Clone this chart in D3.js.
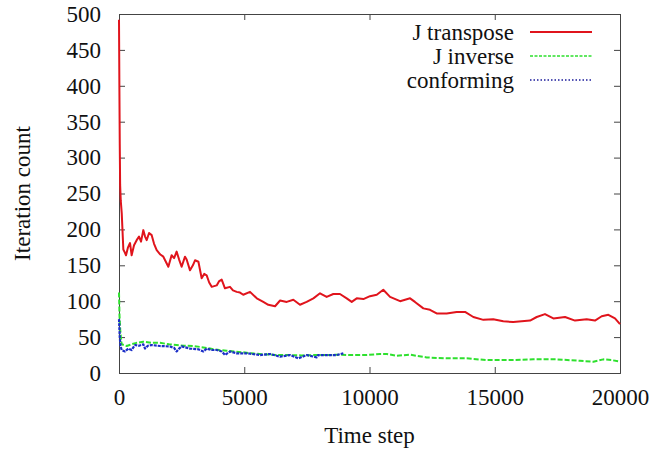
<!DOCTYPE html>
<html>
<head>
<meta charset="utf-8">
<script src="https://cdn.jsdelivr.net/npm/d3@7"></script>
<style>
  body { margin: 0; background: #fff; }
</style>
</head>
<body>
<div class="container"></div>
<script>
var FONT = "'Liberation Serif', 'Times New Roman', Times, 'DejaVu Serif', serif";

// series names
var seriesNames = ['J transpose', 'J inverse', 'conforming'];

// [time step, iteration count]
var jTranspose = [
	[0,492],[15,400],[30,320],[45,262],[70,240],[110,222],[173,172],[230,168],[280,164],[360,175],
	[440,181],[505,164],[600,178],[705,185],[800,190],[880,183],[970,199],[1040,190],[1105,185],[1200,195],
	[1305,192],[1400,180],[1505,171],[1650,165],[1770,162],[1870,155],[1970,148],[2100,164],[2200,160],[2300,169],
	[2400,158],[2500,148],[2635,162],[2700,158],[2835,143],[2950,150],[3035,157],[3170,155],[3300,132],[3400,138],
	[3500,136],[3600,126],[3700,120],[3900,122],[4000,128],[4100,130],[4230,118],[4430,120],[4550,115],[4700,113],
	[4830,112],[4960,109],[5230,113],[5500,104],[5760,99],[5960,95],[6230,93],[6430,101],[6695,99],[6960,102],
	[7225,95],[7490,99],[7760,104],[8025,111],[8290,106],[8555,110],[8820,110],[9090,104],[9290,99],[9490,104],
	[9755,103],[10020,107],[10290,109],[10550,116],[10820,106],[11220,100],[11620,104],[11815,99],[12150,90],[12415,88],
	[12680,83],[13080,83],[13480,85],[13815,85],[14145,78],[14545,74],[14940,75],[15340,72],[15740,71],[16410,73],
	[16675,78],[17005,82],[17340,76],[17805,78],[18205,73],[18670,75],[19000,73],[19270,79],[19535,81],[19800,76],
	[20000,68]
];

var jInverse = [
	[0,112],[20,80],[50,60],[80,48],[107,40],[200,39],[307,37.6],[500,40],[700,42],[970,43.6],
	[1300,42],[1635,42],[2000,40],[2300,39],[2600,38],[2965,37.6],[3300,36],[3630,34],[4000,32],[4300,31],
	[4600,30],[4960,28.8],[5400,27],[5800,26],[6300,25],[6800,25],[7300,24.5],[7800,25],[8300,25],[8800,25.5],
	[9220,25],[9890,25],[10420,26.5],[10690,26.5],[11090,24],[11620,25.5],[12280,21.7],[13080,20.4],[13880,20.4],[14680,18],
	[15610,18],[16540,19],[17470,19],[18400,17],[18935,15.7],[19335,19],[19670,18],[20000,15.7]
];

var conforming = [
	[0,75],[30,50],[60,38],[107,32],[240,30],[370,34],[505,32],[640,39],[800,38],[970,40],
	[1040,34],[1150,38],[1300,39],[1635,37.6],[2030,37],[2200,35],[2300,30],[2400,34],[2500,37],[2835,34],
	[3170,33],[3370,30],[3500,34],[3700,32],[3900,32],[4100,30],[4230,25],[4430,30],[4700,27.4],[5100,27.4],
	[5230,26.9],[5630,25],[6030,26.5],[6430,22.7],[6830,25],[7160,20.4],[7490,25],[7890,21.8],[7950,25],[8290,25],
	[8690,25],[8955,27.4]
];

var xTicks = [0, 5000, 10000, 15000, 20000];
var yTicks = [0, 50, 100, 150, 200, 250, 300, 350, 400, 450, 500];

var margin = {top: 14, right: 36, bottom: 77, left: 119};
var width = 656 - margin.left - margin.right;
var height = 450 - margin.top - margin.bottom;

var svg = d3.select('.container')
	.append('svg')
	.attr('width', 656)
	.attr('height', 450);

var g = svg.append('g')
	.attr('transform', 'translate(' + margin.left + ',' + margin.top + ')');

var x = d3.scaleLinear().domain([0, 20000]).range([0, width]);
var y = d3.scaleLinear().domain([0, 500]).range([height, 0]);

// gnuplot style: ticks pointing inward, mirrored on top and right
g.append('g')
	.attr('class', 'axis')
	.attr('transform', 'translate(0,' + height + ')')
	.call(d3.axisBottom(x).tickValues(xTicks).tickSize(-6).tickPadding(16).tickFormat(d3.format('d')));
g.append('g')
	.attr('class', 'axis')
	.call(d3.axisTop(x).tickValues(xTicks).tickSize(-6).tickFormat(''));
g.append('g')
	.attr('class', 'axis')
	.call(d3.axisLeft(y).tickValues(yTicks).tickSize(-6).tickPadding(18));
g.append('g')
	.attr('class', 'axis')
	.attr('transform', 'translate(' + width + ',0)')
	.call(d3.axisRight(y).tickValues(yTicks).tickSize(-6).tickFormat(''));

g.selectAll('.axis .domain').attr('stroke', '#444');
g.selectAll('.axis line').attr('stroke', '#444');
g.selectAll('.axis text')
	.style('font-family', FONT)
	.style('font-size', '23px')
	.style('fill', '#111');

var line = d3.line()
	.x(function(d) { return x(d[0]); })
	.y(function(d) { return y(d[1]); });

var series = [
	{name: seriesNames[0], data: jTranspose, color: '#e0141c', dash: null, w: 2},
	{name: seriesNames[1], data: jInverse, color: '#2ee02e', dash: '5,2', w: 2},
	{name: seriesNames[2], data: conforming, color: '#1b2ec8', dash: '3,1', w: 2.2}
];

series.forEach(function(s) {
	g.append('path')
		.datum(s.data)
		.attr('fill', 'none')
		.attr('stroke', s.color)
		.attr('stroke-width', s.w)
		.attr('stroke-linejoin', 'round')
		.attr('stroke-dasharray', s.dash)
		.attr('d', line);
});

// legend
var legend = svg.append('g').attr('class', 'legend');
series.forEach(function(s, i) {
	var ly = 32 + i * 24;
	legend.append('text')
		.attr('x', 514)
		.attr('y', ly)
		.attr('dy', '0.35em')
		.attr('text-anchor', 'end')
		.style('font-family', FONT)
		.style('font-size', '23px')
		.style('fill', '#111')
		.text(s.name);
	legend.append('line')
		.attr('x1', 530)
		.attr('x2', 592)
		.attr('y1', ly)
		.attr('y2', ly)
		.attr('stroke', i === 2 ? '#1a1a9a' : s.color)
		.attr('stroke-width', i === 0 ? 2 : 1.5)
		.attr('stroke-dasharray', i === 1 ? '3,1.5' : i === 2 ? '1.5,2' : null);
});

// axis labels
svg.append('text')
	.attr('x', margin.left + width / 2)
	.attr('y', 443)
	.attr('text-anchor', 'middle')
	.style('font-family', FONT)
	.style('font-size', '23px')
	.style('fill', '#111')
	.text('Time step');

svg.append('text')
	.attr('transform', 'translate(30,' + (margin.top + height / 2) + ') rotate(-90)')
	.attr('text-anchor', 'middle')
	.style('font-family', FONT)
	.style('font-size', '23px')
	.style('fill', '#111')
	.text('Iteration count');
</script>
</body>
</html>
